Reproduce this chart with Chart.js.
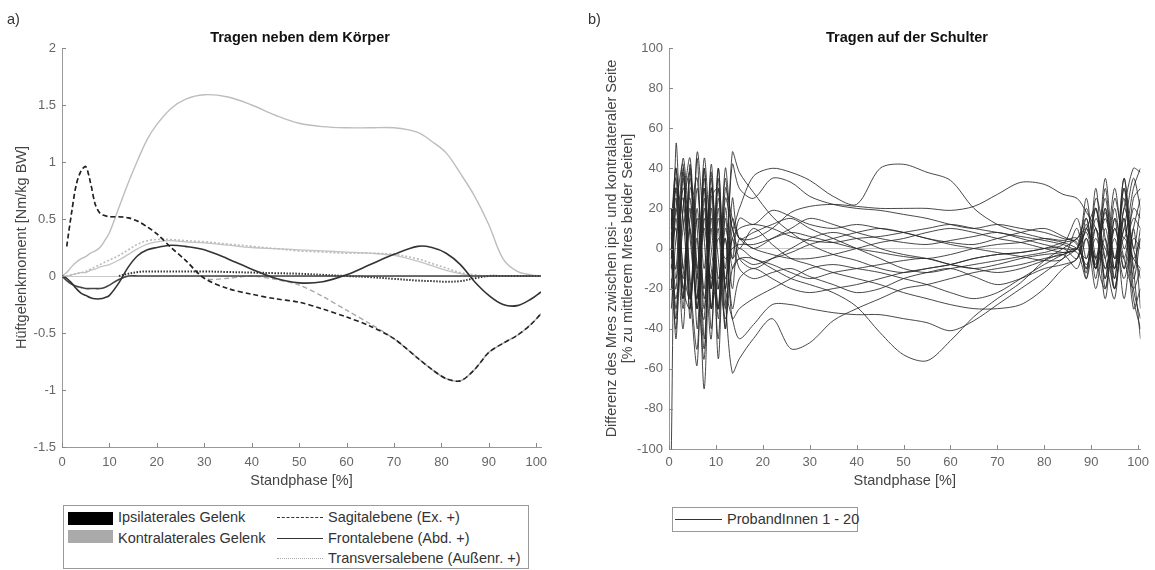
<!DOCTYPE html>
<html>
<head>
<meta charset="utf-8">
<script src="https://cdn.jsdelivr.net/npm/chart.js@4.4.1/dist/chart.umd.min.js"></script>
<style>
  body { margin: 0; background: #fff; }
  #wrap { position: relative; width: 1155px; height: 570px; font-family: 'Liberation Sans', Arial, sans-serif; color: #333; }
  #wrap canvas { position: absolute; top: 0; }
  .txt { position: absolute; font-size: 14.5px; line-height: 17px; white-space: nowrap; }
  .ttl { position: absolute; font-size: 14.5px; font-weight: bold; line-height: 17px; text-align: center; color: #111; }
  .box { position: absolute; border: 1px solid #999; box-sizing: border-box; }
  .ln { position: absolute; height: 0; }
</style>
</head>
<body>
<div id="wrap">
  <canvas id="left" width="560" height="500" style="left:0"></canvas>
  <canvas id="right" width="575" height="500" style="left:580px"></canvas>

  <div class="txt" style="left:7px;top:11px">a)</div>
  <div class="txt" style="left:588px;top:11px">b)</div>
  <div class="ttl" style="left:0;width:600px;top:29px">Tragen neben dem Körper</div>
  <div class="ttl" style="left:707px;width:400px;top:29px">Tragen auf der Schulter</div>

  <!-- Legende links -->
  <div class="box" style="left:63px;top:505px;width:466px;height:64px"></div>
  <div style="position:absolute;left:68px;top:512px;width:45px;height:13px;background:#000"></div>
  <div style="position:absolute;left:68px;top:530px;width:45px;height:13px;background:#aaa"></div>
  <div class="txt" style="left:118px;top:509px">Ipsilaterales Gelenk</div>
  <div class="txt" style="left:118px;top:530px">Kontralaterales Gelenk</div>
  <div class="ln" style="left:277px;top:517px;width:46px;border-top:1px dashed #333"></div>
  <div class="ln" style="left:277px;top:538px;width:46px;border-top:1px solid #333"></div>
  <div class="ln" style="left:277px;top:558px;width:46px;border-top:1px dotted #aaa"></div>
  <div class="txt" style="left:328px;top:509px">Sagitalebene (Ex. +)</div>
  <div class="txt" style="left:328px;top:530px">Frontalebene (Abd. +)</div>
  <div class="txt" style="left:328px;top:550px">Transversalebene (Außenr. +)</div>

  <!-- Legende rechts -->
  <div class="box" style="left:672px;top:507px;width:186px;height:25px"></div>
  <div class="ln" style="left:675px;top:519px;width:47px;border-top:1px solid #333"></div>
  <div class="txt" style="left:727px;top:511px">ProbandInnen 1 - 20</div>
</div>

<script>
// ---- a) Hüftgelenkmoment, Tragen neben dem Körper ----
var stance = [0,1,2,3,4,5,6,7,8,9,10,12,14,16,18,20,23,26,30,35,40,45,50,55,60,65,70,75,78,81,84,87,90,93,96,99,101];

var ipsiSag    = [null,0.26,0.55,0.8,0.92,0.96,0.82,0.63,0.55,0.53,0.52,0.52,0.51,0.48,0.43,0.37,0.25,0.14,-0.02,-0.11,-0.16,-0.2,-0.23,-0.29,-0.36,-0.44,-0.55,-0.72,-0.82,-0.9,-0.92,-0.82,-0.67,-0.59,-0.52,-0.42,-0.33];
var contraSag  = [null,0.26,0.55,0.8,0.92,0.96,0.82,0.63,0.55,0.53,0.52,0.52,0.51,0.48,0.43,0.37,0.25,0.14,-0.02,-0.02,0,-0.03,-0.08,-0.18,-0.3,-0.42,-0.55,-0.72,-0.82,-0.9,-0.92,-0.82,-0.67,-0.59,-0.52,-0.42,-0.33];
var ipsiFront  = [0,-0.02,-0.06,-0.11,-0.15,-0.17,-0.19,-0.2,-0.2,-0.19,-0.17,-0.06,0.08,0.18,0.23,0.25,0.27,0.26,0.23,0.15,0.06,-0.02,-0.06,-0.05,0.01,0.1,0.19,0.26,0.25,0.2,0.1,-0.05,-0.17,-0.25,-0.26,-0.2,-0.14];
var ipsiSmall  = [0,-0.04,-0.07,-0.09,-0.1,-0.11,-0.11,-0.11,-0.11,-0.1,-0.08,-0.03,0,0,0,0,0,0,0,0,0,0,0,0,0,0,0,0,0,0,0,0,0,0,0,0,0];
var ipsiTrans  = [null,null,null,null,null,null,null,null,null,null,null,0,0.02,0.035,0.04,0.04,0.04,0.04,0.04,0.035,0.03,0.025,0.02,0.01,0,-0.01,-0.025,-0.04,-0.045,-0.05,-0.045,-0.02,0,0,0,0,0];
var contraFront= [0,0.03,0.08,0.12,0.15,0.17,0.2,0.22,0.25,0.31,0.38,0.6,0.82,1.02,1.2,1.33,1.47,1.55,1.59,1.57,1.5,1.41,1.34,1.31,1.3,1.3,1.3,1.26,1.18,1.08,0.9,0.7,0.45,0.15,0.04,0.01,0];
var contraLow  = [0,0,0.01,0.02,0.03,0.03,0.05,0.06,0.08,0.09,0.1,0.14,0.19,0.24,0.28,0.3,0.31,0.3,0.29,0.27,0.25,0.24,0.23,0.22,0.21,0.2,0.18,0.13,0.09,0.05,0.02,0,0,0,0,0,0];
var contraTrans= [0,0,0.01,0.02,0.03,0.04,0.06,0.08,0.1,0.12,0.14,0.18,0.23,0.28,0.31,0.32,0.32,0.31,0.3,0.28,0.26,0.24,0.22,0.21,0.2,0.2,0.19,0.15,0.11,0.07,0.03,0.01,0,0,0,0,0];

var momentTicks = [-1.5,-1,-0.5,0,0.5,1,1.5,2];

// ---- b) Differenz Mres, Tragen auf der Schulter ----
var phase = [0.5,1.5,3,4.5,6,7.5,9,10.5,12,13.5,15,18,22,26,30,35,40,45,50,55,60,65,70,75,80,84,87,89,91,93,95,97,99,100.5];

var p1  = [-100,52,-10,20,-30,10,-15,5,-5,0,2, 2,5,8,6,3,0,-2,-4,-5,-3,0,2,3,5,4, 5,-10,20,-5,30,0,15,10];
var p2  = [10,35,-30,42,-40,20,-20,30,-15,5,10, 12,10,6,4,3,5,6,8,10,12,10,8,6,4,2, 0,25,-10,35,-5,20,40,38];
var p3  = [0,-20,38,-35,45,-45,15,-30,10,-5,0, -5,-8,-12,-15,-12,-10,-8,-6,-5,-8,-10,-12,-10,-6,-3, -10,5,-20,10,-15,30,-10,-45];
var p4  = [5,40,-10,-25,30,-10,38,-55,20,-10,-5, -8,-5,-2,2,5,8,10,8,5,2,0,-2,-4,-6,-5, 10,-15,30,-20,15,-25,10,-30];
var p5  = [-5,20,42,-20,-58,40,-30,10,-40,25,5, 8,12,15,10,5,0,-5,-10,-12,-10,-8,-6,-4,-2,0, -5,10,-5,25,-10,35,0,20];
var p6  = [15,-30,20,45,-20,-35,42,-20,5,-30,-15, -10,-15,-20,-22,-20,-18,-15,-12,-10,-8,-5,-3,-2,0,2, 15,-5,20,-15,25,5,30,40];
var p7  = [0,10,-40,30,10,-50,25,30,-25,-62,-55, -45,-35,-50,-47,-36,-30,-25,-20,-18,-15,-12,-10,-8,-5,-3, 0,-8,5,-10,10,-5,20,15];
var p8  = [-10,30,15,-30,48,5,-45,40,-20,48,38, 28,16,8,2,-3,-6,-10,-12,-10,-8,-5,-3,-2,0,3, 5,15,-10,20,-20,10,-5,5];
var p9  = [20,-15,30,10,-30,30,-10,-30,40,10,20, 36,40,38,34,26,22,40,42,38,34,20,12,8,5,3, 0,-5,10,-15,20,-10,5,0];
var p10 = [0,25,-20,15,35,-25,10,-45,30,15,5, 5,10,18,21,22,21,20,20,20,19,21,27,33,32,27, 25,18,10,0,-10,5,-5,-10];
var p11 = [-15,-40,20,38,-10,-55,30,-5,-35,-10,-5, -5,-10,-15,-18,-22,-29,-42,-53,-56,-46,-34,-25,-17,-6,0, 5,10,-5,15,-5,25,-20,-35];
var p12 = [8,-35,35,-15,-50,25,-30,15,-20,-35,-45, -38,-28,-28,-30,-32,-33,-33,-35,-37,-41,-36,-28,-20,-12,-5, 0,8,-10,5,-20,15,-30,-20];
var p13 = [-20,15,-25,40,-10,30,-40,20,-30,5,-10, -15,-12,-10,-14,-18,-22,-20,-15,-12,-10,-14,-18,-15,-10,-8, -5,15,-15,30,-15,35,-10,10];
var p14 = [5,-10,45,5,-25,45,0,-20,35,-5,15, 12,19,16,12,10,12,10,8,5,3,2,5,8,10,6, 2,-10,15,-5,-25,20,0,-15];
var p15 = [12,40,-20,-30,20,-30,30,-35,15,-20,5, 0,5,10,15,12,8,5,3,2,4,6,8,5,2,0, 0,12,-8,18,-10,30,-15,5];
var p16 = [-8,-25,10,25,-30,15,-20,35,-40,10,-5, -10,-5,0,5,8,5,0,-3,-5,-8,-10,-8,-5,-3,-2, 0,20,-5,-20,10,-10,25,30];
var p17 = [10,30,-25,35,-15,40,-30,25,-10,42,30, 25,35,33,26,22,20,19,17,15,12,10,12,10,8,5, 3,-12,25,5,-20,15,-25,-40];
var p18 = [-30,5,25,-25,15,-20,35,-15,5,-35,-30, -25,-20,-15,-10,-8,-10,-12,-15,-18,-22,-25,-22,-15,-8,-3, 0,10,20,-10,5,-15,10,25];
var p19 = [20,-45,40,-25,5,-70,20,-30,25,10,0, 10,2,-5,-8,-12,-15,-18,-22,-25,-28,-30,-30,-28,-20,-10, -5,5,-10,20,-5,10,35,20];
var p20 = [-5,20,-15,10,-25,35,-20,40,-20,15,5, 0,-3,-5,-5,-3,0,3,5,8,10,8,5,3,0,-2, -2,-15,10,-25,15,-5,-20,-10];

var probands = [p1,p2,p3,p4,p5,p6,p7,p8,p9,p10,p11,p12,p13,p14,p15,p16,p17,p18,p19,p20];
var phaseTicks = [0,10,20,30,40,50,60,70,80,90,100];

// MATLAB-artige Ticks nach innen
var inwardTicks = {
  id: 'inwardTicks',
  afterDraw: function(chart) {
    var ctx = chart.ctx, sx = chart.scales.x, sy = chart.scales.y;
    ctx.save();
    ctx.strokeStyle = '#888';
    ctx.lineWidth = 1;
    ctx.beginPath();
    sx.ticks.forEach(function(t) {
      var p = Math.round(sx.getPixelForValue(t.value)) + 0.5;
      ctx.moveTo(p, sx.top); ctx.lineTo(p, sx.top - 4);
    });
    sy.ticks.forEach(function(t) {
      var p = Math.round(sy.getPixelForValue(t.value)) + 0.5;
      ctx.moveTo(sy.right, p); ctx.lineTo(sy.right + 4, p);
    });
    ctx.stroke();
    ctx.restore();
  }
};

function pts(xs, ys) {
  return xs.map(function(x, i) { return {x: x, y: ys[i]}; });
}

function line(xs, ys, color, width, dash, tension) {
  return {
    data: pts(xs, ys),
    borderColor: color,
    borderWidth: width,
    borderDash: dash || [],
    pointRadius: 0,
    fill: false,
    tension: tension
  };
}

var tickFont = {family: "'Liberation Sans', Arial, sans-serif", size: 13};
var titleFont = {family: "'Liberation Sans', Arial, sans-serif", size: 14.5};

function axes(xMax, yMin, yMax, yTicks, xTicks, yTitle, yTitlePad, yWidth, xHeight, xPad) {
  return {
    x: {
      type: 'linear', min: 0, max: xMax,
      afterBuildTicks: function(s) { s.ticks = xTicks.map(function(v) { return {value: v}; }); },
      afterFit: function(s) { s.height = xHeight; },
      grid: {display: false, drawTicks: false},
      border: {color: '#999'},
      ticks: {color: '#666', font: tickFont, padding: xPad, maxRotation: 0},
      title: {display: true, text: 'Standphase [%]', color: '#444', font: titleFont, padding: {top: 0, bottom: 10}}
    },
    y: {
      type: 'linear', min: yMin, max: yMax,
      afterBuildTicks: function(s) { s.ticks = yTicks.map(function(v) { return {value: v}; }); },
      afterFit: function(s) { s.width = yWidth; },
      grid: {drawTicks: false, color: function(c) { return c.tick && c.tick.value === 0 ? '#c8c8c8' : 'rgba(0,0,0,0)'; }},
      border: {color: '#999'},
      ticks: {color: '#666', font: tickFont, padding: 6, callback: function(v) { return String(+v.toFixed(2)); }},
      title: {display: true, text: yTitle, color: '#444', font: Object.assign({lineHeight: 1.1}, titleFont), padding: {top: yTitlePad, bottom: 0}}
    }
  };
}

new Chart(document.getElementById('left'), {
  type: 'line',
  data: {
    datasets: [
      line(stance, ipsiSag, '#222', 1.6, [5, 3], 0.3),
      line(stance, ipsiFront, '#333', 1.6, null, 0.35),
      line(stance, ipsiSmall, '#444', 1.6, null, 0.35),
      line(stance, ipsiTrans, '#333', 2, [1.5, 1.5], 0.35),
      line(stance, contraSag, '#aaa', 1.4, [5, 3], 0.3),
      line(stance, contraTrans, '#bbb', 1.6, [2, 2], 0.35),
      line(stance, contraLow, '#c4c4c4', 1.3, null, 0.35),
      line(stance, contraFront, '#bdbdbd', 1.4, null, 0.35)
    ]
  },
  options: {
    responsive: false,
    animation: false,
    layout: {padding: {left: 0, top: 48, right: 19, bottom: 0}},
    plugins: {legend: {display: false}, title: {display: false}, tooltip: {enabled: false}},
    scales: axes(101, -1.5, 2, momentTicks, phaseTicks, 'Hüftgelenkmoment [Nm/kg BW]', 14, 62, 53, 8)
  },
  plugins: [inwardTicks]
});

new Chart(document.getElementById('right'), {
  type: 'line',
  data: {
    datasets: probands.map(function(p) { return line(phase, p, 'rgba(40,40,40,0.85)', 1, null, 0.3); })
  },
  options: {
    responsive: false,
    animation: false,
    layout: {padding: {left: 0, top: 48, right: 12, bottom: 0}},
    plugins: {legend: {display: false}, title: {display: false}, tooltip: {enabled: false}},
    scales: axes(100.5, -100, 100, [-100,-80,-60,-40,-20,0,20,40,60,80,100], phaseTicks,
      ['Differenz des Mres zwischen ipsi- und kontralateraler Seite', '[% zu mittlerem Mres beider Seiten]'], 24, 89, 51, 6)
  },
  plugins: [inwardTicks]
});
</script>
</body>
</html>
